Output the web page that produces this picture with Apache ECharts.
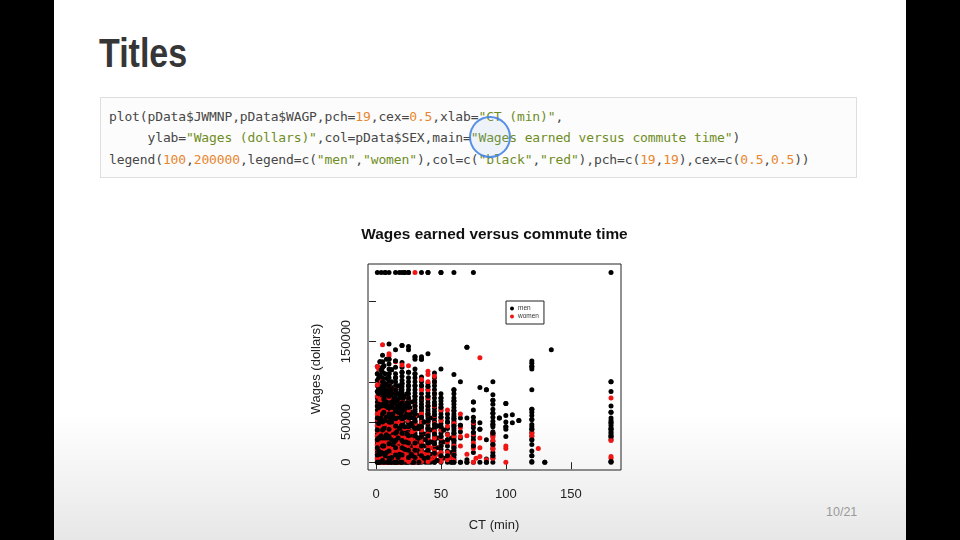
<!DOCTYPE html>
<html><head><meta charset="utf-8">
<script src="https://cdn.jsdelivr.net/npm/echarts@6/dist/echarts.min.js"></script>
<style>
html,body{margin:0;padding:0;background:#000;width:960px;height:540px;overflow:hidden}
#slide{position:absolute;left:54px;top:0;width:852px;height:540px;background:linear-gradient(to bottom,#fff 0%,#fff 77%,#e7e7e7 100%);}
#h{position:absolute;left:99px;top:33px;font:bold 40px 'Liberation Sans',Arial,sans-serif;line-height:40px;color:#363636;white-space:nowrap;transform:scaleX(0.85);transform-origin:0 0}
#codebox{position:absolute;left:100px;top:97px;width:755px;height:79px;border:1px solid #dedede;background:#fcfcfc}
#code{position:absolute;left:109px;top:106px;font:13px 'DejaVu Sans Mono',monospace;letter-spacing:-0.13px;line-height:21.3px;color:#474747;white-space:pre}
.n{color:#e8862f}.s{color:#6f8d1f}
#ring{position:absolute;left:469px;top:116px;width:42px;height:42px;box-sizing:border-box;border:2.5px solid rgba(60,125,225,0.85);border-radius:50%;background:rgba(140,180,240,0.12)}
#pg{position:absolute;left:826px;top:505px;font:12.5px 'Liberation Sans',sans-serif;color:#9a9a9a}
#chart{position:absolute;left:0;top:0;width:960px;height:540px}
</style></head>
<body>
<div id="slide"></div>
<div id="h">Titles</div>
<div id="codebox"></div>
<div id="code">plot(pData$JWMNP,pData$WAGP,pch=<span class="n">19</span>,cex=<span class="n">0.5</span>,xlab=<span class="s">"CT (min)"</span>,
     ylab=<span class="s">"Wages (dollars)"</span>,col=pData$SEX,main=<span class="s">"Wages earned versus commute time"</span>)
legend(<span class="n">100</span>,<span class="n">200000</span>,legend=c(<span class="s">"men"</span>,<span class="s">"women"</span>),col=c(<span class="s">"black"</span>,<span class="s">"red"</span>),pch=c(<span class="n">19</span>,<span class="n">19</span>),cex=c(<span class="n">0.5</span>,<span class="n">0.5</span>))</div>
<div id="ring"></div>
<div id="pg">10/21</div>
<div id="chart"></div>
<script>
// commute time columns (minutes) and wages in thousands of dollars read per column
const menCT = [1,2,3,4,5,6,7,8,9,10,11,12,13,14,15,16,17,18,19,20,21,22,23,24,25,26,27,28,29,30,32,33,35,37,38,40,42,45,47,50,52,55,58,60,65,70,75,80,85,90,95,100,105,110,120,130,135,181];
const menWagesK = [
 [0,3,6,9,12,15,18,22,25,28,32,35,40,45,50,55,60,65,70,75,80,88,95,102,110,119,236],
 [0,4,8,14,20,26,30,36,42,48,54,62,68,72,78,85,92,105],
 [0,2,5,10,16,24,30,38,45,52,58,65,70,75,82,90,100,108,125],
 [0,6,12,18,25,33,40,47,55,62,66,70,75,80,88,95,105,115,236],
 [0,2,4,8,11,14,17,20,24,27,30,34,37,40,43,46,50,53,56,60,64,68,72,76,80,85,90,95,100,105,112,118,125,133],
 [0,5,10,20,28,35,42,50,58,62,66,72,78,85,92,120],
 [0,3,8,15,22,30,37,45,52,60,65,70,76,82,90,98,110,236],
 [0,5,12,18,26,34,42,48,56,65,70,75,82,88,96,104,128],
 [0,10,20,30,45,60,68,75,80,88],
 [0,2,5,8,11,14,17,20,23,26,29,32,35,38,41,44,47,50,53,56,60,63,66,70,74,78,82,86,90,95,100,105,110,116,122,128,147,236],
 [0,15,35,55,65,75,85,95],
 [0,6,12,20,28,35,42,50,58,66,70,75,80,85,92,100,115],
 [0,10,22,34,46,60,72,90],
 [0,8,16,25,35,45,55,62,68,74,80,88],
 [0,3,6,9,12,15,18,21,24,27,30,33,36,39,42,45,48,51,54,57,60,64,68,72,76,80,85,90,95,100,105,110,118,126,140,236],
 [0,12,25,38,52,62,70,78],
 [0,6,14,22,30,40,50,62,68,75,85,95],
 [0,10,20,30,42,55,65,72,80,236],
 [0,20,45,60,70,90],
 [0,3,6,9,12,15,18,21,24,27,30,33,36,39,42,45,48,51,54,57,60,63,66,70,74,78,82,86,90,94,98,102,107,112,118,124,145,236],
 [5,25,50,65,80],
 [0,8,16,25,34,44,55,62,66,74,82,236],
 [0,12,25,40,58,70],
 [0,15,35,60,72,85],
 [0,3,6,9,12,15,18,21,24,27,30,33,36,40,44,48,52,56,60,64,68,72,76,80,85,90,95,100,105,112,140,144,236],
 [10,30,55,68],
 [0,10,22,35,48,62],
 [0,8,18,30,45,60,75],
 [0,20,40,55],
 [0,3,6,9,12,15,18,21,24,27,30,33,36,39,42,45,48,51,54,57,60,63,66,70,74,78,82,86,90,95,100,105,110,116,128,131],
 [0,15,30,45,58],
 [0,10,25,42],
 [0,4,8,12,16,20,24,28,32,36,40,44,48,52,56,60,64,68,72,76,80,85,90,95,100,106,128,131,236],
 [5,20,35,50],
 [0,12,28],
 [0,3,6,9,12,15,18,21,24,27,30,33,36,39,42,45,48,51,54,57,60,63,66,70,74,78,82,86,90,94,98,135,236],
 [0,10,25,40,55],
 [0,3,7,11,15,19,23,27,31,35,39,43,47,51,55,59,63,67,71,75,80,85,90,95,100,105,111],
 [2,18,30,45],
 [0,4,8,12,16,20,24,28,32,36,40,44,48,52,56,60,64,68,72,76,80,85,116,236],
 [5,25,40],
 [0,4,8,14,20,28,35,42,50,55,60],
 [0,12,30],
 [0,3,6,9,12,15,18,21,24,27,30,33,36,39,42,45,48,51,54,57,60,64,68,72,76,80,85,90,109,236],
 [0,30,38,46,55,100],
 [0,3,55,143],
 [0,12,20,28,32,37,43,47,51,56,65,75,236],
 [0,41,49,93],
 [0,4,28,90],
 [0,5,8,12,17,22,26,33,36,38,44,47,51,56,61,66,72,77,84,100],
 [55],
 [32,41,44,50,58,73],
 [49,59],
 [52],
 [0,1,8,14,22,28,33,37,41,44,47,53,58,62,66,90,116,119,123,126],
 [0],
 [140],
 [0,1,28,31,33,36,38,41,43,46,49,52,55,62,70,88,100,236]
];
const womenCT = [1,2,3,4,5,6,7,8,9,10,12,13,14,15,16,17,18,20,22,23,25,27,28,30,32,35,37,40,42,45,47,50,55,58,60,65,70,75,77,80,85,90,100,120,125,181];
const womenWagesK = [
 [1,5,10,16,21,27,33,39,46,53,60,70,82,96,119],
 [2,7,12,18,24,30,38,46,58,116],
 [0,4,9,14,20,27,34,42,50,62,78],
 [1,6,11,16,22,29,36,45,55,68,85,100],
 [0,3,7,10,14,19,23,28,33,38,44,50,57,66,76,146],
 [2,8,14,21,28,36,48,60],
 [0,5,11,17,24,31,40,50,65],
 [3,9,15,22,30,38,48,62,75],
 [1,8,18,28,40],
 [0,4,9,13,18,22,27,32,38,44,52,60,70,80,95,132,135],
 [2,8,15,23,31,40,50,62],
 [5,18,30,45],
 [0,6,13,21,30,42],
 [1,5,10,14,19,24,29,35,42,50,60,72,90,125],
 [4,15,28,40],
 [2,9,18,27,38,50],
 [0,7,15,25,35],
 [0,4,9,14,19,24,30,36,44,52,62,75,121],
 [3,10,20,30,42],
 [6,18],
 [1,6,11,16,22,28,35,43,52,65,80,120],
 [4,15,28],
 [2,12,25,38],
 [0,5,10,15,20,26,32,40,48,58,70,236],
 [5,20],
 [1,6,12,18,25,32,40,50,60,80,90,103],
 [10,28],
 [1,5,10,16,22,28,35,42,50,60,70,80,90,100,109,113],
 [4,18],
 [2,8,14,22,30,38,48,58,70,85,100,107],
 [10],
 [1,6,12,20,30,40,52,65],
 [3,12,25,34,45,65],
 [6],
 [2,10,20,32,48],
 [20,32,43,60],
 [10,33],
 [0,17,24,35,49],
 [5],
 [7,18,30,130],
 [3],
 [5,16,20,27,31,34,36],
 [0,17,20],
 [32,36],
 [17],
 [5,7,27,80]
];
const xTicks = [0,50,100,150];
const yTicks = [0,50000,100000,150000,200000];
const yTickLabels = [0,50000,150000];
const legendNames = ['men','women'];

function toPoints(ct, wagesK){
  const pts = [];
  ct.forEach((c,i)=>wagesK[i].forEach(w=>pts.push([c, w*1000])));
  return pts;
}
const menPts = toPoints(menCT, menWagesK);
const womenPts = toPoints(womenCT, womenWagesK);
// R draws points in file order, so the two colours interleave; redraw part of the men on top
const menOverlay = menPts.filter((p,i)=>i%3===0);

const FONT = "'Liberation Sans', Arial, sans-serif";
const chart = echarts.init(document.getElementById('chart'), null, {renderer:'canvas'});
const dot = {type:'scatter', symbolSize:5, emphasis:{disabled:true}};
chart.setOption({
  animation:false,
  grid:{left:368, top:264, width:253, height:206, show:true, borderColor:'#222', borderWidth:1, backgroundColor:'transparent'},
  xAxis:{type:'value', min:-6.2, max:188.7,
    axisLine:{show:false}, splitLine:{show:false},
    axisTick:{show:true, length:7, lineStyle:{color:'#222', width:1}, customValues:xTicks},
    axisLabel:{customValues:xTicks, formatter:v=>String(v), margin:18, fontSize:13, fontFamily:FONT, color:'#222'}},
  yAxis:{type:'value', min:-9700, max:246500,
    axisLine:{show:false}, splitLine:{show:false},
    axisTick:{show:true, length:7, lineStyle:{color:'#222', width:1}, customValues:yTicks},
    axisLabel:{customValues:yTickLabels, formatter:v=>String(v), rotate:90, margin:15, fontSize:13, fontFamily:FONT, color:'#222'}},
  legend:{data:legendNames, orient:'vertical', left:506, top:301, padding:[4,5,4,4], itemGap:1,
    itemWidth:4, itemHeight:4, icon:'circle', borderColor:'#222', borderWidth:1, borderRadius:0,
    textStyle:{fontSize:6.5, lineHeight:7, fontFamily:FONT, color:'#333', padding:[0,0,0,-1]}},
  series:[
    Object.assign({name:'men', data:menPts, itemStyle:{color:'#000', opacity:1}}, dot),
    Object.assign({name:'women', data:womenPts, itemStyle:{color:'#f01414', opacity:1}}, dot),
    Object.assign({name:'men', data:menOverlay, itemStyle:{color:'#000', opacity:1}}, dot)
  ],
  graphic:[
    {type:'text', x:494.5, y:235, style:{text:'Wages earned versus commute time', align:'center', verticalAlign:'middle', font:"bold 15.4px 'Liberation Sans', Arial, sans-serif", fill:'#111'}},
    {type:'text', x:494, y:525, style:{text:'CT (min)', align:'center', verticalAlign:'middle', font:"13px 'Liberation Sans', Arial, sans-serif", fill:'#222'}},
    {type:'text', x:316, y:369, rotation:Math.PI/2, style:{text:'Wages (dollars)', align:'center', verticalAlign:'middle', font:"13px 'Liberation Sans', Arial, sans-serif", fill:'#222'}}
  ]
});
</script>
</body></html>
